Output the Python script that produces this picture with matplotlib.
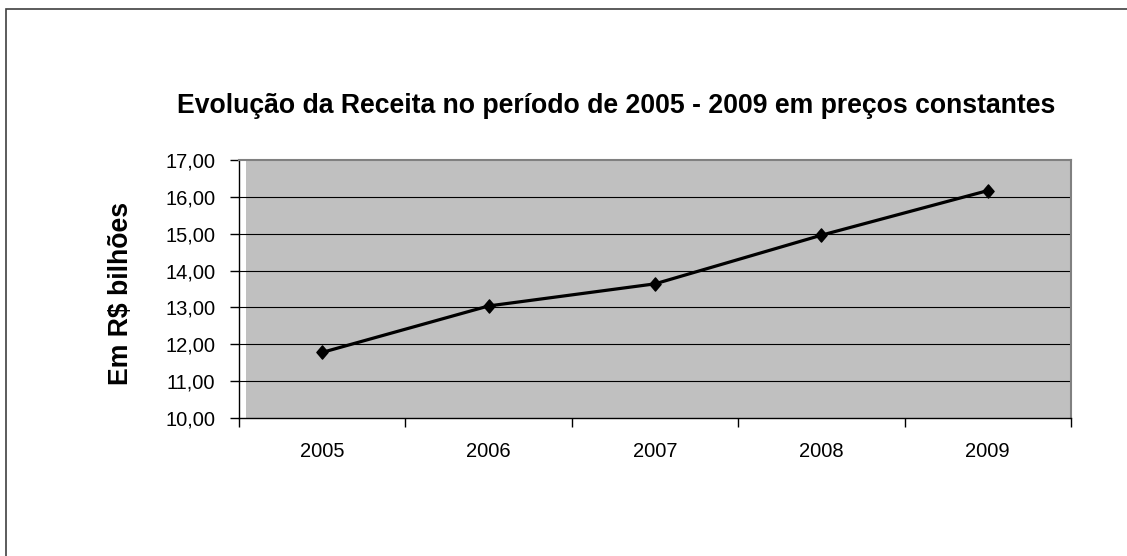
import matplotlib
matplotlib.use("Agg")
import matplotlib.pyplot as plt
from matplotlib.patches import Rectangle
from matplotlib.path import Path

years = ["2005", "2006", "2007", "2008", "2009"]
receita = [11.78, 13.04, 13.64, 14.96, 16.17]
yticks = [10, 11, 12, 13, 14, 15, 16, 17]
ytick_labels = ["10,00", "11,00", "12,00", "13,00", "14,00", "15,00", "16,00", "17,00"]
title = "Evolução da Receita no período de 2005 - 2009 em preços constantes"
ylabel = "Em R$ bilhões"

plt.rcParams['font.family'] = ['Liberation Sans', 'DejaVu Sans']

W, H = 1127, 556
fig = plt.figure(figsize=(W / 100, H / 100), dpi=100)
fig.patch.set_facecolor("white")

# outer chart border (only left and top visible in the reference)
fig.patches.append(Rectangle((6 / W, -0.2), 2.0, 1 - 9 / H + 0.2,
                             transform=fig.transFigure, fill=False,
                             edgecolor="#404040", linewidth=1.2))

left, right, top, bottom = 239, 1071, 160, 418
ax = fig.add_axes([left / W, 1 - bottom / H, (right - left) / W, (bottom - top) / H])
ax.set_facecolor("white")
# gray plot area (starts slightly right of the value axis, as in the reference)
ax.add_patch(Rectangle((7 / (right - left), 0), 1 - 7 / (right - left), 1,
                       transform=ax.transAxes, facecolor="#c0c0c0",
                       edgecolor="none", zorder=0))

x = list(range(len(years)))
ax.set_xlim(-0.5, len(years) - 0.5)
ax.set_ylim(10, 17)

for v in yticks[1:-1]:
    ax.axhline(v, color="black", linewidth=0.8, zorder=1)

diamond = Path([(0, 1), (0.85, 0), (0, -1), (-0.85, 0), (0, 1)],
               [Path.MOVETO, Path.LINETO, Path.LINETO, Path.LINETO, Path.CLOSEPOLY])
ax.plot(x, receita, color="black", linewidth=2.3, marker=diamond,
        markersize=9.5, markerfacecolor="black", markeredgecolor="black", zorder=3)

ax.set_yticks(yticks)
ax.set_yticklabels(ytick_labels)
ax.set_xticks([i - 0.5 for i in range(len(years) + 1)])
ax.set_xticklabels([])
ax.set_xticks(x, minor=True)
ax.set_xticklabels(years, minor=True)
ax.tick_params(axis="x", which="minor", length=0, labelsize=14.5, pad=17)
ax.tick_params(axis="x", which="major", length=6.5, width=1, direction="out")
ax.tick_params(axis="y", length=6.5, width=1, direction="out", labelsize=14.5, pad=10.5)

for s in ["left", "bottom"]:
    ax.spines[s].set_color("black")
    ax.spines[s].set_linewidth(1.0)
for s in ["top", "right"]:
    ax.spines[s].set_color("#808080")
    ax.spines[s].set_linewidth(1.5)

fig.text(616 / W, 1 - 113.3 / H, title, ha="center", va="baseline",
         fontsize=19.2, fontweight="bold")
fig.text(128.3 / W, 1 - 293.3 / H, ylabel, rotation=90, rotation_mode="anchor",
         ha="center", va="baseline", fontsize=19.2, fontweight="bold")

fig.savefig("out.png", dpi=100, facecolor="white")
